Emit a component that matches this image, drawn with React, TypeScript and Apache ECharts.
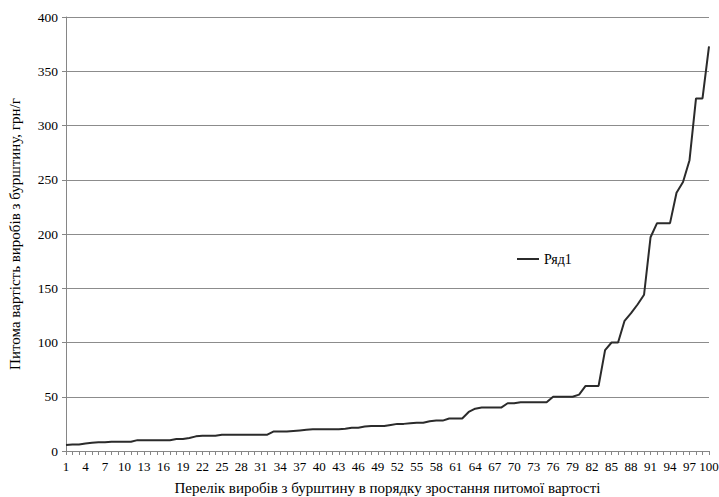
import React, { useEffect, useRef } from "react";
import * as echarts from "echarts";

const categories: string[] = Array.from({ length: 100 }, (_, i) => String(i + 1));

const values: number[] = [
  5.5, 6, 6, 7, 7.5, 8, 8, 8.5, 8.5, 8.5,
  8.5, 10, 10, 10, 10, 10, 10, 11, 11, 12,
  13.5, 14, 14, 14, 15, 15, 15, 15, 15, 15,
  15, 15, 18, 18, 18, 18.5, 19, 19.5, 20, 20,
  20, 20, 20, 20.5, 21.5, 21.5, 22.5, 23, 23, 23,
  24, 25, 25, 25.5, 26, 26, 27.5, 28, 28, 30,
  30, 30, 36, 39, 40, 40, 40, 40, 44, 44,
  45, 45, 45, 45, 45, 50, 50, 50, 50, 52,
  60, 60, 60, 93, 100, 100, 120, 127, 135, 144,
  197, 210, 210, 210, 238, 248, 268, 325, 325, 373,
];

const seriesName = "Ряд1";
const xTitle = "Перелік виробів з бурштину в порядку зростання питомої вартості";
const yTitle = "Питома вартість виробів з бурштину, грн/г";

export default function App() {
  const ref = useRef<HTMLDivElement>(null);
  useEffect(() => {
    if (!ref.current) return;
    document.body.style.margin = "0";
    document.body.style.overflow = "hidden";
    const chart = echarts.init(ref.current, undefined, { renderer: "svg" });
    const font = "Liberation Serif, Times New Roman, serif";
    chart.setOption({
      animation: false,
      textStyle: { fontFamily: font },
      grid: {
        left: 66,
        right: 10,
        top: 17,
        bottom: 46,
        containLabel: false,
        outerBoundsMode: "none",
      },
      legend: {
        left: 512,
        top: 247,
        icon: "rect",
        itemWidth: 22,
        itemHeight: 2,
        itemGap: 4,
        textStyle: { fontFamily: font, fontSize: 14, color: "#000" },
        data: [{ name: seriesName, itemStyle: { color: "#2b2b2b" } }],
      },
      xAxis: {
        type: "category",
        data: categories,
        boundaryGap: false,
        name: xTitle,
        nameLocation: "middle",
        nameGap: 29,
        nameTextStyle: { fontFamily: font, fontSize: 15, color: "#000" },
        axisLine: { lineStyle: { color: "#868686", width: 1 } },
        axisTick: { show: true, interval: 0, length: 4, lineStyle: { color: "#868686" } },
        axisLabel: { interval: 2, fontFamily: font, fontSize: 13, color: "#000", margin: 9 },
        splitLine: { show: false },
      },
      yAxis: {
        type: "value",
        min: 0,
        max: 400,
        interval: 50,
        name: yTitle,
        nameLocation: "middle",
        nameGap: 44,
        nameTextStyle: { fontFamily: font, fontSize: 15, color: "#000" },
        axisLine: { show: true, lineStyle: { color: "#868686", width: 1 } },
        axisTick: { show: true, length: 4, lineStyle: { color: "#868686" } },
        axisLabel: { fontFamily: font, fontSize: 13.5, color: "#000", margin: 8 },
        splitLine: { show: true, lineStyle: { color: "#8c8c8c", width: 1 } },
      },
      series: [
        {
          name: seriesName,
          type: "line",
          data: values,
          symbol: "none",
          showSymbol: false,
          lineStyle: { color: "#2b2b2b", width: 2 },
          itemStyle: { color: "#2b2b2b" },
        },
      ],
    });
    return () => chart.dispose();
  }, []);
  return <div ref={ref} style={{ width: 719, height: 497, overflow: "hidden" }} />;
}
